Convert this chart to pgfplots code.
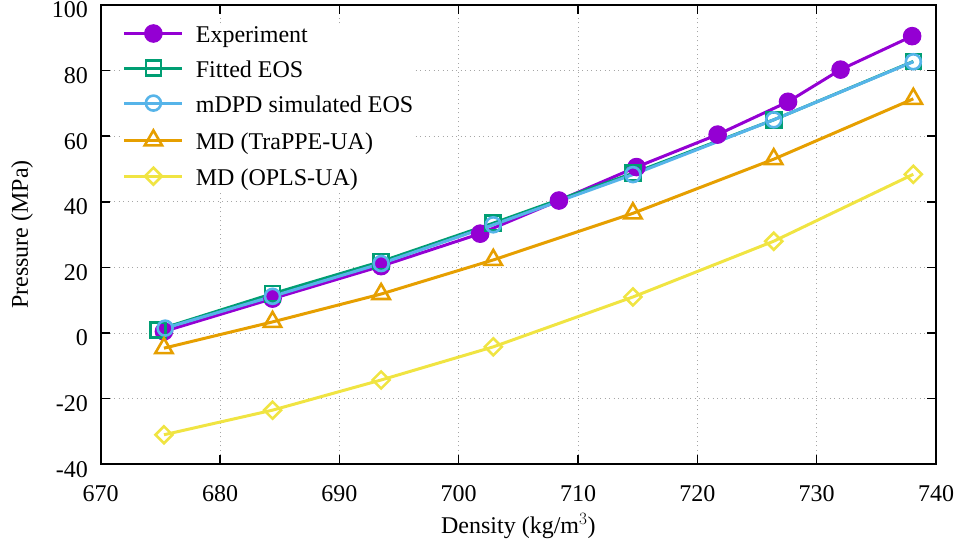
\documentclass[border=0pt]{standalone}
\usepackage{fontspec}
\setmainfont{Liberation Serif}
\usepackage{pgfplots}
\pgfplotsset{compat=1.18}
\definecolor{cexp}{HTML}{9400D3}
\definecolor{cfit}{HTML}{009E73}
\definecolor{cmd}{HTML}{56B4E9}
\definecolor{ctr}{HTML}{E69F00}
\definecolor{cop}{HTML}{F0E442}
\begin{document}
\fontsize{24}{28}\selectfont
\begin{tikzpicture}
\begin{axis}[
  scale only axis, width=835.3pt, height=459.3pt,
  xmin=670, xmax=740, ymin=-40, ymax=100,
  xtick={670,680,...,740},
  ytick={-40,-20,0,20,40,60,80,100},
  yticklabels={-40,-20,0,20,40,60,80,100},
  /pgf/number format/assume math mode=true,
  /pgf/number format/1000 sep={},
  tick align=inside, major tick length=9pt,
  every tick/.style={black, line width=1.5pt},
  axis line style={line width=1.8pt},
  grid=major,
  major grid style={gray!70, line width=1pt, dash pattern=on 1pt off 3.5pt},
  xticklabel style={anchor=center, yshift=-29.5pt},
  yticklabel style={anchor=east, inner sep=0pt, xshift=-12.7pt, yshift=-5pt},
  xlabel={Density (kg/m$^{3}$)},
  ylabel={Pressure (MPa)},
  every axis x label/.style={at={(axis description cs:0.5,-0.135)}, anchor=center},
  every axis y label/.style={at={(axis description cs:-0.094,0.5)}, anchor=center, rotate=90},
  legend cell align=left,
  legend style={at={(axis description cs:0,1)}, anchor=north west, xshift=22pt, yshift=-19.5pt,
    draw=none, fill=white, inner sep=0pt, row sep=12.3pt, column sep=12pt,
    nodes={inner sep=0pt, text height=16pt, text depth=6pt, anchor=base west, xshift=14pt}},
  legend image code/.code={\draw[mark repeat=2, mark phase=2, yshift=9pt] plot coordinates {(0pt,0pt) (29pt,0pt) (58pt,0pt)};},
  every axis plot/.append style={line width=3pt},
]
\addplot[cexp, mark=*, mark size=8.8pt, mark options={solid, fill=cexp, line width=1pt}] coordinates {
(675.3,0.5) (684.4,10.5) (693.5,20.4) (701.8,30.3) (708.4,40.4) (714.9,50.6) (721.7,60.5) (727.6,70.5) (732.0,80.3) (738.0,90.5)};
\addlegendentry{Experiment}
\addplot[cfit, mark=square, mark size=7.5pt, mark options={solid, line width=2.6pt}] coordinates {
(674.8,1.0) (684.4,12.0) (693.5,21.8) (702.9,33.5) (714.6,48.7) (726.4,65.0) (738.1,82.8)};
\addlegendentry{Fitted EOS}
\addplot[cmd, mark=o, mark size=7.5pt, mark options={solid, line width=2.6pt}] coordinates {
(675.4,1.5) (684.4,11.2) (693.5,21.2) (702.9,33.0) (714.6,48.3) (726.4,65.0) (738.1,82.7)};
\addlegendentry{mDPD simulated EOS}
\addplot[ctr, mark=triangle, mark size=10pt, mark options={solid, line width=2.6pt}] coordinates {
(675.3,-4.6) (684.4,3.4) (693.5,11.9) (702.9,22.3) (714.6,36.5) (726.4,53.0) (738.1,71.4)};
\addlegendentry{MD (TraPPE-UA)}
\addplot[cop, mark=square, mark size=6pt, mark options={solid, rotate=45, line width=2.6pt}] coordinates {
(675.3,-31.0) (684.4,-23.5) (693.5,-14.3) (702.9,-4.2) (714.6,11.0) (726.4,28.0) (738.1,48.4)};
\addlegendentry{MD (OPLS-UA)}
\coordinate (bl) at (rel axis cs:0,0);
\coordinate (tr) at (rel axis cs:1,1);
\end{axis}
\pgfresetboundingbox
\path ([xshift=-100.7pt,yshift=-86pt]bl) rectangle ([xshift=24pt,yshift=5pt]tr);
\end{tikzpicture}
\end{document}
